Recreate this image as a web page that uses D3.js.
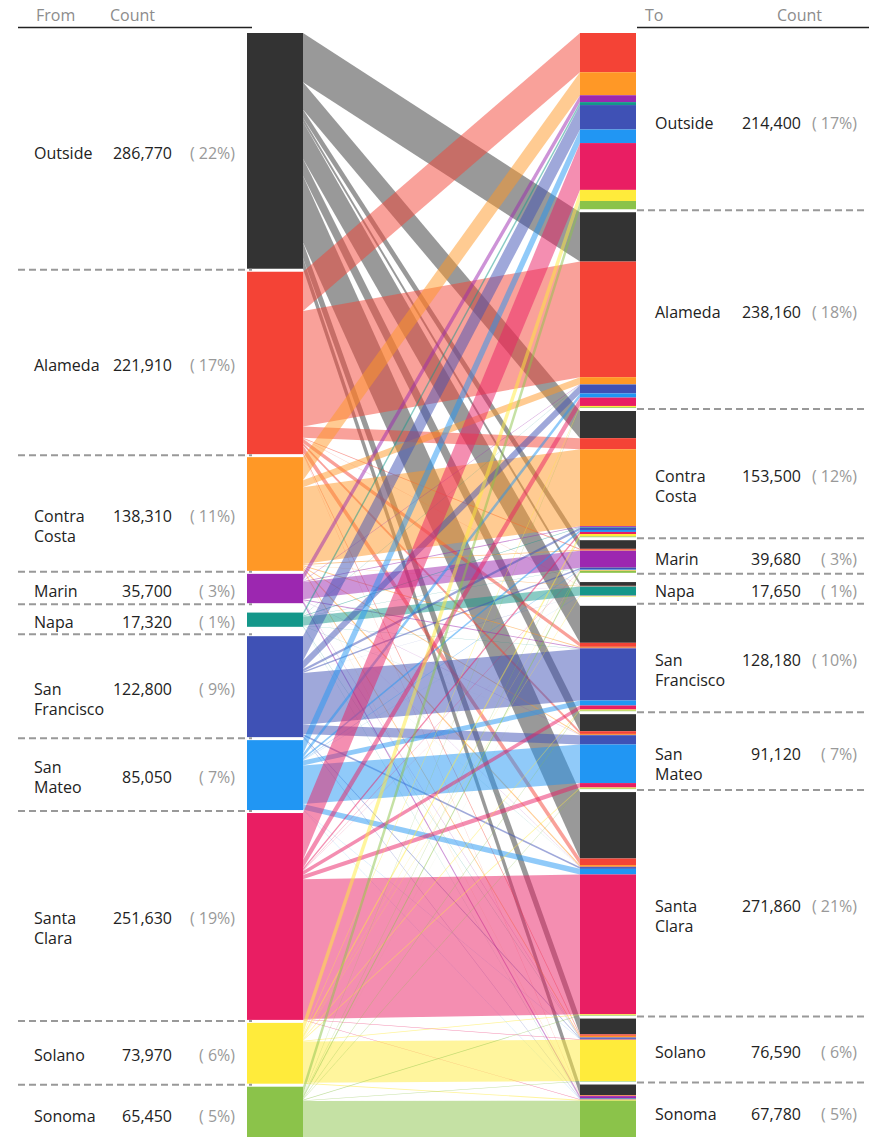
<!DOCTYPE html>
<html>
<head>
<meta charset="utf-8">
<script src="https://cdn.jsdelivr.net/npm/d3@7"></script>
<style>
  html, body { margin: 0; padding: 0; background: #fff; overflow: hidden; }
  svg { display: block; font-family: "Open Sans", "Noto Sans", sans-serif; }
</style>
</head>
<body>
<svg id="chart" width="870" height="1137"></svg>
<script>
// Commute flows between Bay Area counties (from county of residence to county of work)
const regions = ["Outside", "Alameda", "Contra Costa", "Marin", "Napa",
                 "San Francisco", "San Mateo", "Santa Clara", "Solano", "Sonoma"];
const regionColors = ["#333333", "#f44336", "#ff9826", "#9c27b0", "#14978a",
                      "#3f51b5", "#2196f3", "#e91e63", "#ffeb3b", "#8bc34a"];

const fromTotals = [286770, 221910, 138310, 35700, 17320, 122800, 85050, 251630, 73970, 65450];
const toTotals   = [214400, 238160, 153500, 39680, 17650, 128180, 91120, 271860, 76590, 67780];

// Each array: commuters from one region to every destination, in `regions` order
const fromOutside      = [0, 60000, 33000, 10500, 4600, 45000, 20700, 80770, 19200, 13000];
const fromAlameda      = [47710, 140620, 13480, 1200, 300, 4900, 3300, 8000, 1800, 600];
const fromContraCosta  = [28000, 8500, 93610, 1000, 400, 1200, 1200, 2100, 1800, 500];
const fromMarin        = [8350, 600, 1050, 20780, 200, 1000, 300, 300, 600, 2520];
const fromNapa         = [3600, 400, 700, 300, 10800, 300, 100, 100, 520, 500];
const fromSanFrancisco = [29750, 10300, 2860, 1800, 200, 62800, 11310, 2100, 1080, 600];
const fromSanMateo     = [16500, 5040, 2400, 600, 100, 6080, 46900, 6830, 300, 300];
const fromSantaClara   = [56950, 10200, 2500, 500, 200, 4900, 5420, 169960, 600, 400];
const fromSolano       = [13500, 1600, 3000, 600, 700, 1200, 1180, 900, 50090, 1200];
const fromSonoma       = [10040, 900, 900, 2400, 150, 800, 700, 800, 600, 48160];

const flowMatrix = [fromOutside, fromAlameda, fromContraCosta, fromMarin, fromNapa,
                    fromSanFrancisco, fromSanMateo, fromSantaClara, fromSolano, fromSonoma];

// ---- layout ----
const svg = d3.select("#chart");
const plotTop = 33, plotBottom = 1140.5;
const nodePad = 3;      // gap between neighbouring rows
const minSlot = 27;     // each row is at least this tall so its label fits
const leftBarX = 247, rightBarX = 580, barW = 56;

// pixels per commuter: solve so that both columns fit the plot height
function fitScale(totals) {
  const sum = d3.sum(totals);
  let k = (plotBottom - plotTop - nodePad * (totals.length - 1)) / sum;
  for (let it = 0; it < 20; it++) {
    const extra = d3.sum(totals, v => Math.max(0, minSlot - v * k));
    k = (plotBottom - plotTop - nodePad * (totals.length - 1) - extra) / sum;
  }
  return k;
}
const k = Math.min(fitScale(fromTotals), fitScale(toTotals));
const ky = d3.scaleLinear().domain([0, d3.sum(fromTotals)]).range([0, d3.sum(fromTotals) * k]);

function layoutColumn(totals) {
  let y = plotTop;
  return totals.map((v, i) => {
    const h = ky(v);
    const slot = Math.max(h, minSlot);
    const s0 = y, s1 = y + slot;
    y = s1 + nodePad;
    const y0 = s0 + (slot - h) / 2;
    return { i, value: v, y0, y1: y0 + h, s0, s1 };
  });
}
const leftNodes = layoutColumn(fromTotals);
const rightNodes = layoutColumn(toTotals);

// ---- flows ----
const links = [];
flowMatrix.forEach((row, i) => {
  row.forEach((v, j) => {
    if (!v) return;
    const srcOffset = d3.sum(row.slice(0, j));
    const dstOffset = d3.sum(flowMatrix.slice(0, i), r => r[j]);
    links.push({
      source: i, target: j, value: v,
      sy0: leftNodes[i].y0 + ky(srcOffset),
      sy1: leftNodes[i].y0 + ky(srcOffset + v),
      ty0: rightNodes[j].y0 + ky(dstOffset),
      ty1: rightNodes[j].y0 + ky(dstOffset + v)
    });
  });
});

const band = d3.area().x(d => d.x).y0(d => d.y0).y1(d => d.y1);

svg.append("g").attr("class", "links")
  .selectAll("path").data(links).join("path")
  .attr("d", d => band([
    { x: leftBarX + barW, y0: d.sy0, y1: d.sy1 },
    { x: rightBarX, y0: d.ty0, y1: d.ty1 }
  ]))
  .attr("fill", d => regionColors[d.source])
  .attr("fill-opacity", 0.5);

// ---- bars ----
svg.append("g").attr("class", "left-nodes")
  .selectAll("rect").data(leftNodes).join("rect")
  .attr("x", leftBarX).attr("width", barW)
  .attr("y", d => d.y0).attr("height", d => d.y1 - d.y0)
  .attr("fill", d => regionColors[d.i]);

svg.append("g").attr("class", "right-segments")
  .selectAll("rect").data(links).join("rect")
  .attr("x", rightBarX).attr("width", barW)
  .attr("y", d => d.ty0).attr("height", d => d.ty1 - d.ty0)
  .attr("fill", d => regionColors[d.source]);

// ---- headers ----
const headerY = 21;
const header = svg.append("g").attr("font-size", 16).attr("fill", "#8c8c8c");
header.append("text").attr("x", 36).attr("y", headerY).text("From");
header.append("text").attr("x", 110).attr("y", headerY).text("Count");
header.append("text").attr("x", 645).attr("y", headerY).text("To");
header.append("text").attr("x", 777).attr("y", headerY).text("Count");
svg.append("line").attr("x1", 18).attr("x2", 252).attr("y1", 27.5).attr("y2", 27.5)
  .attr("stroke", "#222").attr("stroke-width", 1.6);
svg.append("line").attr("x1", 637).attr("x2", 869).attr("y1", 27.5).attr("y2", 27.5)
  .attr("stroke", "#222").attr("stroke-width", 1.6);

// ---- separators and labels ----
const fmtCount = d3.format(",");
function drawColumnLabels(nodes, total, opts) {
  const g = svg.append("g");
  // dashed separators between rows
  for (let n = 0; n < nodes.length - 1; n++) {
    const y = (nodes[n].s1 + nodes[n + 1].s0) / 2 - 0.5;
    g.append("line").attr("x1", opts.lineX0).attr("x2", opts.lineX1)
      .attr("y1", y).attr("y2", y)
      .attr("stroke", "#999").attr("stroke-width", 2)
      .attr("stroke-dasharray", "7,4");
  }
  nodes.forEach(d => {
    const c = (d.s0 + d.s1) / 2;
    const words = regions[d.i].split(" ");
    const lineH = 20;
    let first = c;
    // shift a wrapped name up when its last line would crowd the row below
    const lastBaseline = c + 8 + lineH * (words.length - 1);
    if (words.length > 1 && d.s1 - lastBaseline < 8) first = c - lineH * (words.length - 1) / 2;
    words.forEach((w, wi) => {
      g.append("text").attr("x", opts.nameX).attr("y", first + wi * lineH).attr("dy", "0.5em")
        .attr("font-size", 16).attr("fill", "#222").text(w);
    });
    g.append("text").attr("x", opts.countX).attr("y", c).attr("dy", "0.5em")
      .attr("text-anchor", "end").attr("font-size", 16).attr("fill", "#222")
      .text(fmtCount(d.value));
    g.append("text").attr("x", opts.pctX).attr("y", c).attr("dy", "0.5em")
      .attr("text-anchor", "end").attr("font-size", 16).attr("fill", "#999")
      .text("( " + Math.round(d.value / total * 100) + "%)");
  });
}
drawColumnLabels(leftNodes, d3.sum(fromTotals), { lineX0: 18, lineX1: 252, nameX: 34, countX: 172, pctX: 235 });
drawColumnLabels(rightNodes, d3.sum(toTotals), { lineX0: 637, lineX1: 868, nameX: 655, countX: 801, pctX: 857 });
</script>
</body>
</html>
